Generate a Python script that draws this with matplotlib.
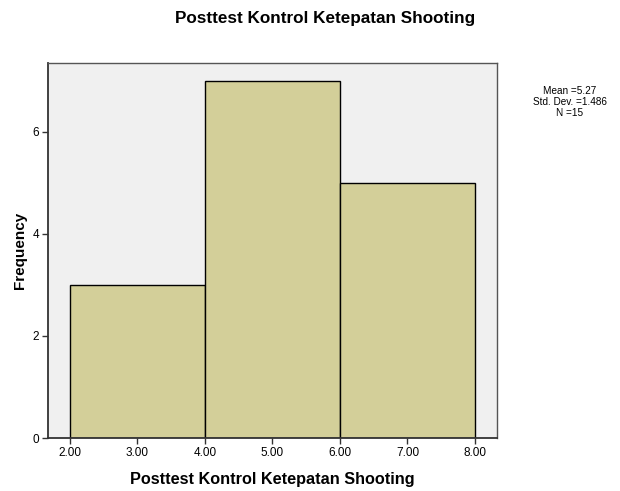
import matplotlib
matplotlib.use("Agg")
import matplotlib.pyplot as plt
import numpy as np

plt.rcParams['font.family'] = ['Liberation Sans', 'DejaVu Sans']

bin_edges = [2.0, 4.0, 6.0, 8.0]
counts = [3, 7, 5]
xtick_vals = [2, 3, 4, 5, 6, 7, 8]
xtick_labels = ["2.00", "3.00", "4.00", "5.00", "6.00", "7.00", "8.00"]
ytick_vals = [0, 2, 4, 6]
title = "Posttest Kontrol Ketepatan Shooting"
xlabel = "Posttest Kontrol Ketepatan Shooting"
ylabel = "Frequency"
stats_text = "Mean =5.27\nStd. Dev. =1.486\nN =15"

fig = plt.figure(figsize=(6.2, 4.91), dpi=100)
ax = fig.add_axes([0.0774, 0.1079, 0.7242, 0.7637])
ax.set_facecolor('#F0F0F0')

lefts = bin_edges[:-1]
widths = np.diff(bin_edges)
ax.bar(lefts, counts, width=widths, align='edge', color='#D3CF99',
       edgecolor='black', linewidth=1.0, zorder=2)

ax.set_xlim(1.674, 8.326)
ax.set_ylim(0, 7.35)
ax.set_xticks(xtick_vals)
ax.set_xticklabels(xtick_labels)
ax.set_yticks(ytick_vals)
ax.tick_params(axis='both', labelsize=8.5, length=4.5, width=1, color='#333333', pad=2)

for s in ['left', 'bottom']:
    ax.spines[s].set_color('#333333')
    ax.spines[s].set_linewidth(1.3)
for s in ['top', 'right']:
    ax.spines[s].set_color('#555555')
    ax.spines[s].set_linewidth(1.0)

ax.set_xlabel(xlabel, fontsize=11.7, fontweight='bold', labelpad=9)
ax.set_ylabel(ylabel, fontsize=11, fontweight='bold', labelpad=4)

fig.text(325/620, 1 - 18/491, title, ha='center', va='center',
         fontsize=12.3, fontweight='bold')
fig.text(570/620, 1 - 102/491, stats_text, ha='center', va='center',
         fontsize=7.2, linespacing=1.15)

fig.savefig("out.png", dpi=100)
